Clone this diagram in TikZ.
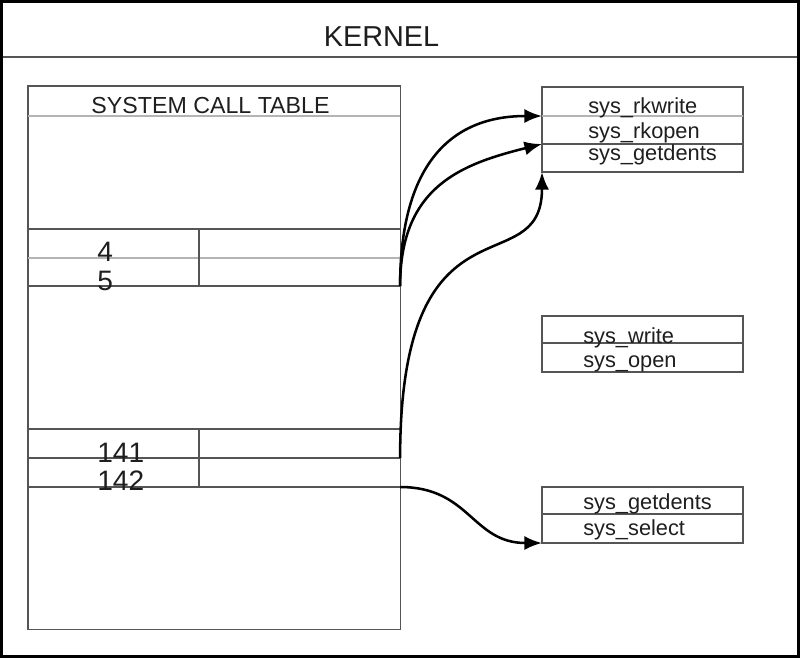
\documentclass[tikz,border=0pt]{standalone}
\usepackage{fontspec}
\setmainfont{Liberation Sans}
\usetikzlibrary{arrows.meta}

\definecolor{edgegray}{HTML}{555555}
\definecolor{softgray}{HTML}{B4B4B4}
\definecolor{inkgray}{HTML}{1E1E1E}

\tikzset{
  cell/.style={draw=edgegray, line width=0.85pt, inner sep=0pt, outer sep=0pt, anchor=north west, minimum width=5.025cm},
  rowcell/.style={cell, minimum width=9.3cm},
  entry/.style={anchor=base west, inner sep=0pt, text=inkgray, font=\fontsize{15.5}{18}\selectfont},
  idx/.style={anchor=base west, inner sep=0pt, text=inkgray, font=\fontsize{20}{24}\selectfont},
  link/.style={line width=1.8pt, -{Latex[length=12.5pt,width=10pt]}},
  softline/.style={softgray, line width=1.5pt},
}

\begin{document}
\begin{tikzpicture}[x=0.025cm, y=-0.025cm]
    \useasboundingbox (0,0) rectangle (800,658);
    \draw[line width=2.2pt] (1.5,1.5) rectangle (798.5,656.5);
    \draw[edgegray, line width=0.9pt] (3,57) -- (797,57);
    \node[anchor=base, inner sep=0pt, text=inkgray, font=\fontsize{20.5}{24}\selectfont] (kernel) at (381.5,46) {KERNEL};

    % system call table
    \node[cell, minimum width=9.3cm, minimum height=13.575cm] (table) at (28,86) {};
    \draw[softline] (28,116) -- (400,116);
    \node[anchor=base, inner sep=0pt, text=inkgray, font=\fontsize{16.5}{20}\selectfont] (tabletitle) at (210.5,113) {SYSTEM CALL TABLE};

    \node[rowcell, minimum height=0.725cm] (row4) at (28,229) {};
    \node[rowcell, minimum height=0.7cm] (row5) at (28,258) {};
    \draw[softline] (row5.north west) -- (row5.north east);
    \draw[edgegray, line width=0.85pt] (199,229) -- (199,286);

    \node[rowcell, minimum height=0.725cm] (row141) at (28,429) {};
    \node[rowcell, minimum height=0.725cm] (row142) at (28,458) {};
    \draw[edgegray, line width=0.85pt] (199,429) -- (199,487);

    \node[idx] (num4) at (97,261) {4};
    \node[idx] (num5) at (97,290) {5};
    \node[idx] (num141) at (97,462) {141};
    \node[idx] (num142) at (97,490) {142};

    % hooked entries
    \node[cell, minimum height=0.725cm] (rkwrite) at (542,87) {};
    \node[cell, minimum height=0.7cm] (rkopen) at (542,116) {};
    \node[cell, minimum height=0.7cm] (getdents) at (542,144) {};
    \draw[softline] (rkwrite.south west) -- (rkwrite.south east);
    \node[entry] (rkwritetxt) at (588,113) {sys\_rkwrite};
    \node[entry] (rkopentxt) at (588,138) {sys\_rkopen};
    \node[entry] (getdentstxt) at (588,160) {sys\_getdents};

    % original entries
    \node[cell, minimum height=0.675cm] (write) at (542,316) {};
    \node[cell, minimum height=0.725cm] (open) at (542,343) {};
    \node[entry] (writetxt) at (583,343) {sys\_write};
    \node[entry] (opentxt) at (583,367) {sys\_open};

    \node[cell, minimum height=0.675cm] (getdentsb) at (542,487) {};
    \node[cell, minimum height=0.725cm] (select) at (542,514) {};
    \node[entry] (getdentsbtxt) at (583,509) {sys\_getdents};
    \node[entry] (selecttxt) at (583,535) {sys\_select};

    % pointers
    \draw[link] (row5.south east) .. controls +(0,-110) and +(-100,0) .. (rkwrite.south west);
    \draw[link] (row5.south east) .. controls +(0,-100) and +(-80,20) .. (rkopen.south west);
    \draw[link] (row141.south east) .. controls +(0,-275) and +(0,115) .. (getdents.south west);
    \draw[link] (row142.south east) .. controls +(70,0) and +(-70,0) .. (select.south west);
\end{tikzpicture}
\end{document}
